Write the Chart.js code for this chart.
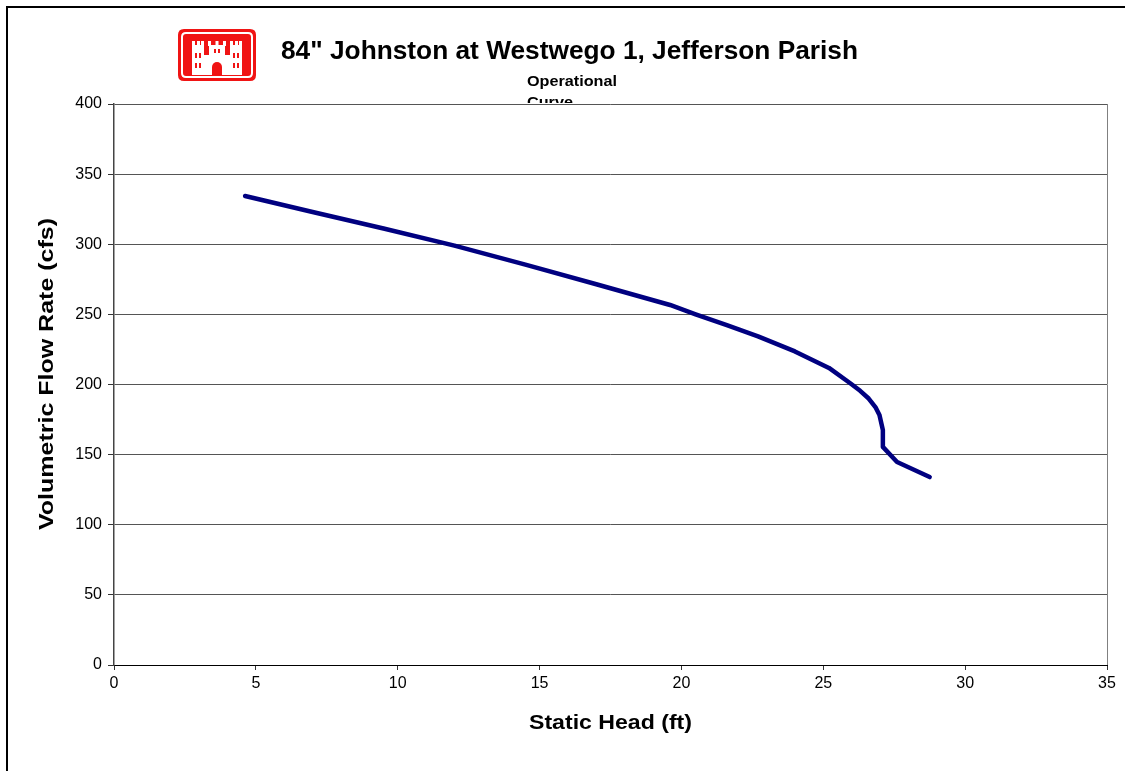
<!DOCTYPE html>
<html>
<head>
<meta charset="utf-8">
<script src="https://cdn.jsdelivr.net/npm/chart.js@4"></script>
<style>
html,body{margin:0;padding:0;background:#fff;}
#wrap{position:relative;width:1125px;height:771px;}
</style>
</head>
<body>
<div id="wrap"><canvas id="c" width="1125" height="771"></canvas></div>
<script>
const titleText = '84" Johnston at Westwego 1, Jefferson Parish';
const subtitleLines = ['Operational', 'Curve'];
const xTitle = 'Static Head (ft)';
const yTitle = 'Volumetric Flow Rate (cfs)';
const staticHead = [4.62, 7.0, 9.5, 12.0, 14.5, 17.0, 19.6, 20.5, 21.6, 22.7, 24.0, 25.2, 25.95, 26.3, 26.6, 26.85, 26.98, 27.1, 27.1, 27.6, 28.75];
const flowRate   = [334.4, 323.0, 311.2, 299.0, 285.5, 271.5, 256.7, 250.0, 242.3, 234.3, 223.6, 211.8, 200.9, 195.5, 190.0, 183.5, 178.3, 167.5, 155.5, 144.7, 134.0];
const xMin = 0, xMax = 35, xStep = 5;
const yMin = 0, yMax = 400, yStep = 50;

const points = staticHead.map((x, i) => ({x: x, y: flowRate[i]}));
const FONT = '"Liberation Sans", Arial, sans-serif';

function fitText(ctx, text, x, y, font, scaleX, rot, align) {
  ctx.save();
  ctx.font = font;
  ctx.translate(x, y);
  if (rot) ctx.rotate(rot);
  ctx.scale(scaleX, 1);
  ctx.textAlign = align || 'center';
  ctx.textBaseline = 'middle';
  ctx.fillText(text, 0, 0);
  ctx.restore();
}
function scaleFor(ctx, text, font, targetW) {
  ctx.save(); ctx.font = font;
  const w = ctx.measureText(text).width;
  ctx.restore();
  return targetW / w;
}

const decor = {
  id: 'decor',
  afterDraw(chart) {
    const ctx = chart.ctx;
    const ca = chart.chartArea;
    ctx.save();
    // outer frame (left & top)
    ctx.strokeStyle = '#000';
    ctx.lineWidth = 2;
    ctx.beginPath();
    ctx.moveTo(7, 771); ctx.lineTo(7, 7); ctx.lineTo(1125, 7);
    ctx.stroke();
    // right border of plot
    ctx.strokeStyle = '#808080';
    ctx.lineWidth = 1;
    ctx.beginPath();
    ctx.moveTo(Math.round(ca.right) + 0.5, ca.top);
    ctx.lineTo(Math.round(ca.right) + 0.5, ca.bottom);
    ctx.stroke();
    ctx.fillStyle = '#000';
    // title
    const tf = 'bold 26px ' + FONT;
    fitText(ctx, titleText, 569.5, 52, tf, scaleFor(ctx, titleText, tf, 577), 0);
    // subtitle
    const sf = 'bold 15px ' + FONT;
    const ss = scaleFor(ctx, subtitleLines[0], sf, 90);
    fitText(ctx, subtitleLines[0], 527, 81.5, sf, ss, 0, 'left');
    ctx.save();
    ctx.beginPath();
    ctx.rect(0, 0, 1125, ca.top - 1);
    ctx.clip();
    fitText(ctx, subtitleLines[1], 527, 102.5, sf, ss, 0, 'left');
    ctx.restore();
    // axis titles
    const af = 'bold 20px ' + FONT;
    fitText(ctx, xTitle, (ca.left + ca.right) / 2, 723, af, scaleFor(ctx, xTitle, af, 163), 0);
    fitText(ctx, yTitle, 47, 374, af, scaleFor(ctx, yTitle, af, 312), -Math.PI / 2);
    // logo
    const lx = 178, ly = 29, lw = 78, lh = 52;
    ctx.fillStyle = '#f01414';
    roundRect(ctx, lx, ly, lw, lh, 6); ctx.fill();
    ctx.strokeStyle = '#fff';
    ctx.lineWidth = 2;
    roundRect(ctx, lx + 4, ly + 4, lw - 8, lh - 8, 4); ctx.stroke();
    ctx.fillStyle = '#fff';
    const cx = lx + 12, cy = ly + 10;
    ctx.fillRect(cx + 2, cy + 6, 12, 30);
    ctx.fillRect(cx + 40, cy + 6, 12, 30);
    ctx.fillRect(cx + 14, cy + 16, 26, 20);
    for (const tx of [cx, cx + 38]) {
      ctx.fillRect(tx + 2, cy + 2, 3, 5);
      ctx.fillRect(tx + 7, cy + 2, 3, 5);
      ctx.fillRect(tx + 11, cy + 2, 3, 5);
    }
    ctx.fillRect(cx + 19, cy + 6, 16, 12);
    ctx.fillRect(cx + 18, cy + 2, 3, 5);
    ctx.fillRect(cx + 25.5, cy + 2, 3, 5);
    ctx.fillRect(cx + 33, cy + 2, 3, 5);
    ctx.fillStyle = '#f01414';
    ctx.beginPath();
    ctx.moveTo(cx + 22, cy + 36); ctx.lineTo(cx + 22, cy + 28);
    ctx.arc(cx + 27, cy + 28, 5, Math.PI, 0); ctx.lineTo(cx + 32, cy + 36); ctx.closePath();
    ctx.fill();
    for (const wx of [5, 9, 43, 47]) {
      ctx.fillRect(cx + wx, cy + 14, 2, 5);
      ctx.fillRect(cx + wx, cy + 24, 2, 5);
    }
    ctx.fillRect(cx + 24, cy + 10, 2, 4); ctx.fillRect(cx + 28, cy + 10, 2, 4);
    ctx.restore();
  }
};
function roundRect(ctx, x, y, w, h, r) {
  ctx.beginPath();
  ctx.moveTo(x + r, y);
  ctx.lineTo(x + w - r, y); ctx.quadraticCurveTo(x + w, y, x + w, y + r);
  ctx.lineTo(x + w, y + h - r); ctx.quadraticCurveTo(x + w, y + h, x + w - r, y + h);
  ctx.lineTo(x + r, y + h); ctx.quadraticCurveTo(x, y + h, x, y + h - r);
  ctx.lineTo(x, y + r); ctx.quadraticCurveTo(x, y, x + r, y);
  ctx.closePath();
}

Chart.defaults.font.family = FONT;
Chart.defaults.color = '#000';

new Chart(document.getElementById('c'), {
  type: 'scatter',
  data: {
    datasets: [{
      data: points,
      showLine: true,
      borderColor: '#000080',
      backgroundColor: '#000080',
      borderWidth: 4.5,
      pointRadius: 0,
      tension: 0,
      borderCapStyle: 'round',
      borderJoinStyle: 'round'
    }]
  },
  plugins: [decor],
  options: {
    responsive: false,
    animation: false,
    layout: { padding: { left: 0, top: 104, right: 18, bottom: 0 } },
    plugins: { legend: { display: false }, tooltip: { enabled: false } },
    scales: {
      x: {
        type: 'linear', min: xMin, max: xMax,
        afterFit(s) { s.height = 106; },
        ticks: { stepSize: xStep, font: { size: 16 }, padding: 4, maxRotation: 0 },
        grid: { drawOnChartArea: false, drawTicks: true, tickLength: 5, color: '#333' },
        border: { color: '#000', width: 1 },
        title: { display: false }
      },
      y: {
        type: 'linear', min: yMin, max: yMax,
        afterFit(s) { s.width = 114; },
        ticks: { stepSize: yStep, font: { size: 16 }, padding: 6 },
        grid: { color: '#555', tickLength: 6, tickColor: '#333' },
        border: { color: '#444', width: 1.5 },
        title: { display: false }
      }
    }
  }
});
</script>
</body>
</html>
